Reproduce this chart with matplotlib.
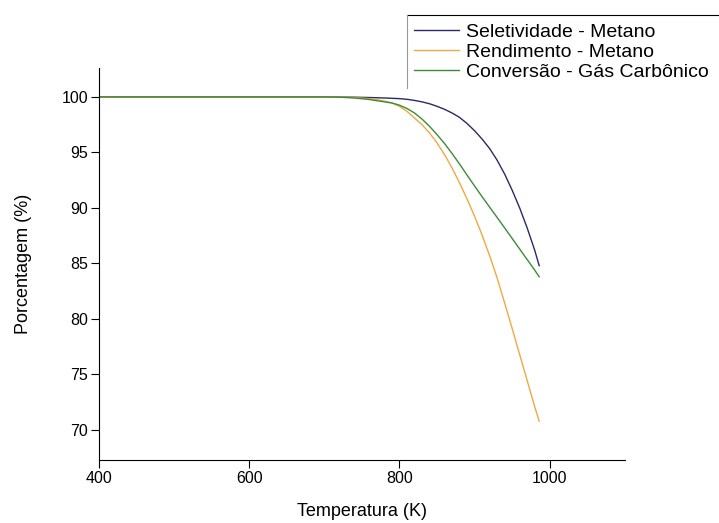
import matplotlib
matplotlib.use("Agg")
import matplotlib.pyplot as plt
from matplotlib.lines import Line2D

plt.rcParams['font.family'] = ['Liberation Sans', 'DejaVu Sans']

# dados (K, %)
temperatura = [400, 500, 600, 700, 720, 740, 760, 770, 780, 790, 800, 810, 820, 830, 840,
               850, 860, 870, 880, 890, 900, 910, 920, 930, 940, 950, 960, 970, 980, 986]
seletividade = [100, 100, 100, 100, 99.99, 99.97, 99.94, 99.92, 99.9, 99.87, 99.84, 99.78, 99.68, 99.55, 99.38,
                99.15, 98.88, 98.55, 98.15, 97.6, 96.95, 96.2, 95.35, 94.3, 93.05, 91.6, 90.0, 88.2, 86.2, 84.8]
rendimento = [100, 100, 100, 100, 99.98, 99.94, 99.84, 99.75, 99.62, 99.45, 99.15, 98.7, 98.1, 97.5, 96.75,
              95.85, 94.8, 93.6, 92.25, 90.8, 89.25, 87.55, 85.7, 83.7, 81.45, 79.15, 76.8, 74.45, 72.1, 70.8]
conversao = [100, 100, 100, 100, 99.97, 99.9, 99.76, 99.65, 99.55, 99.45, 99.25, 98.95, 98.55, 98.0, 97.35,
             96.6, 95.8, 94.9, 93.95, 92.95, 91.97, 91.01, 90.07, 89.14, 88.2, 87.25, 86.3, 85.35, 84.4, 83.8]

nomes = ["Seletividade - Metano", "Rendimento - Metano", "Conversão - Gás Carbônico"]
cores = ["#2a2a66", "#f0a843", "#3a8c3a"]

fig = plt.figure(figsize=(7.19, 5.23), dpi=100)
ax = fig.add_axes([0.1377, 0.1205, 0.7313, 0.7495])

for y, nome, cor in zip([seletividade, rendimento, conversao], nomes, cores):
    ax.plot(temperatura, y, color=cor, lw=1.0, label=nome)

ax.set_xlim(400, 1100)
ax.set_ylim(67.3, 102.6)
ax.set_xticks([400, 600, 800, 1000])
ax.set_yticks([70, 75, 80, 85, 90, 95, 100])
ax.spines['top'].set_visible(False)
ax.spines['right'].set_visible(False)
ax.tick_params(direction='out', length=6, width=0.8, labelsize=11.5, pad=2)
ax.set_xlabel("Temperatura (K)", fontsize=13, labelpad=12)
ax.set_ylabel("Porcentagem (%)", fontsize=13, labelpad=21)

leg = fig.legend(loc='upper left', bbox_to_anchor=(414 / 719, 1 - 23 / 523),
                 frameon=False, fontsize=14, handlelength=2.3,
                 handletextpad=0.4, labelspacing=0.14, borderaxespad=0, borderpad=0)

# borda do legenda (só topo e esquerda)
fig.add_artist(Line2D([407 / 719, 1.0], [1 - 15 / 523, 1 - 15 / 523], color='black', lw=0.8))
fig.add_artist(Line2D([407 / 719, 407 / 719], [1 - 15 / 523, 1 - 88 / 523], color='#999999', lw=0.8))

fig.savefig("out.png", dpi=100)
